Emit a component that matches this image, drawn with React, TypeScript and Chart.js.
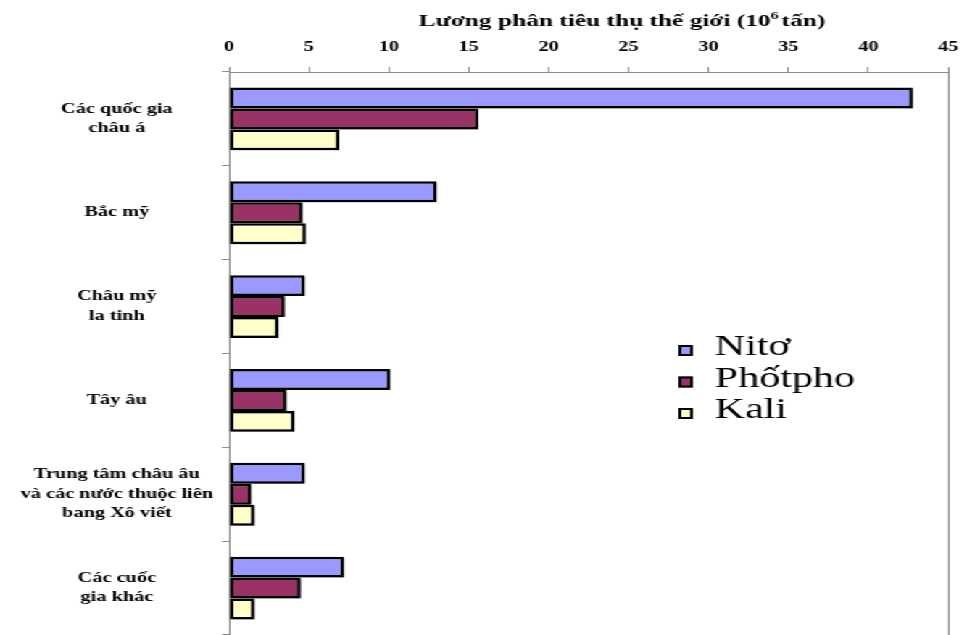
import { useEffect, useRef } from "react";
import { Chart, registerables } from "chart.js";

Chart.register(...registerables);

// Regions (one group of three bars each)
const regions: string[][] = [
  ["Các quốc gia", "châu á"],
  ["Bắc mỹ"],
  ["Châu mỹ", "la tinh"],
  ["Tây âu"],
  ["Trung tâm châu âu", "và các nước thuộc liên", "bang Xô viết"],
  ["Các cuốc", "gia khác"],
];

// Consumption per fertiliser, million tonnes
const nitoValues = [42.8, 13.0, 4.75, 10.1, 4.75, 7.2];
const photphoValues = [15.6, 4.6, 3.5, 3.6, 1.4, 4.5];
const kaliValues = [6.9, 4.8, 3.1, 4.1, 1.6, 1.6];

const seriesNames = ["Nitơ", "Phốtpho", "Kali"];

// Top value axis
const axisMin = 0;
const axisMax = 45;
const axisStep = 5;

// Axis caption, drawn in three pieces so the exponent can sit raised
const captionMain = "Lương phân tiêu thụ thế giới (10";
const captionExponent = "6";
const captionUnit = "tấn)";

const SERIF = '"Liberation Serif", "Times New Roman", Times, serif';
const AXIS_GREY = "#8c8c8c";

// The drawing is laid out narrow and widened horizontally as a whole
const CANVAS_W = 667;
const CANVAS_H = 635;
const STRETCH_X = 967 / CANVAS_W;

const captionPlugin = {
  id: "unitCaption",
  afterDraw(chart: any, _args: any, opts: any) {
    const { ctx, chartArea } = chart;
    ctx.save();
    ctx.fillStyle = "#000";
    ctx.textAlign = "left";
    ctx.textBaseline = "alphabetic";
    const mainFont = `bold ${opts.size}px ${SERIF}`;
    const supFont = `bold ${opts.supSize}px ${SERIF}`;
    ctx.font = mainFont;
    const w1 = ctx.measureText(captionMain).width;
    const w3 = ctx.measureText(captionUnit).width;
    ctx.font = supFont;
    const w2 = ctx.measureText(captionExponent).width;
    const total = w1 + w2 + w3 + opts.gap;
    let x = (chartArea.left + chartArea.right) / 2 + opts.shift - total / 2;
    ctx.font = mainFont;
    ctx.fillText(captionMain, x, opts.baseline);
    x += w1;
    ctx.font = supFont;
    ctx.fillText(captionExponent, x, opts.baseline - opts.raise);
    x += w2 + opts.gap;
    ctx.font = mainFont;
    ctx.fillText(captionUnit, x, opts.baseline);
    ctx.restore();
  },
};

const boxLegendPlugin = {
  id: "boxLegend",
  afterDraw(chart: any, _args: any, opts: any) {
    const { ctx } = chart;
    ctx.save();
    ctx.textAlign = "left";
    ctx.textBaseline = "alphabetic";
    ctx.font = `${opts.size}px ${SERIF}`;
    chart.data.datasets.forEach((ds: any, i: number) => {
      const base = opts.y + i * opts.rowGap;
      const bx = opts.x;
      const by = base - opts.boxRise;
      ctx.fillStyle = ds.backgroundColor;
      ctx.fillRect(bx, by, opts.boxW, opts.boxH);
      ctx.lineWidth = 2;
      ctx.strokeStyle = "#000";
      ctx.strokeRect(bx + 1, by + 1, opts.boxW - 2, opts.boxH - 2);
      ctx.fillStyle = "#000";
      ctx.fillText(ds.label, bx + opts.textGap, base);
    });
    ctx.restore();
  },
};

const barShadowPlugin = {
  id: "barShadow",
  beforeDatasetsDraw(chart: any) {
    const { ctx } = chart;
    ctx.save();
    ctx.shadowColor = "rgba(0,0,0,0.3)";
    ctx.shadowOffsetX = 2;
    ctx.shadowOffsetY = 2;
    ctx.shadowBlur = 0;
  },
  afterDatasetsDraw(chart: any) {
    chart.ctx.restore();
  },
};

export default function App() {
  const canvasRef = useRef<HTMLCanvasElement | null>(null);

  useEffect(() => {
    const canvas = canvasRef.current;
    if (!canvas) return;

    const makeSet = (label: string, data: number[], fill: string) => ({
      label,
      data,
      backgroundColor: fill,
      borderColor: "#000",
      borderWidth: 2.5,
      borderSkipped: false as const,
      barPercentage: 1,
      categoryPercentage: 0.67,
    });

    const chart = new Chart(canvas, {
      type: "bar",
      data: {
        labels: regions,
        datasets: [
          makeSet(seriesNames[0], nitoValues, "#9999FF"),
          makeSet(seriesNames[1], photphoValues, "#993366"),
          makeSet(seriesNames[2], kaliValues, "#FFFFCC"),
        ],
      },
      options: {
        indexAxis: "y",
        animation: false,
        responsive: false,
        layout: { padding: { top: 0, left: 0, right: 13, bottom: 0 } },
        scales: {
          x: {
            position: "top",
            min: axisMin,
            max: axisMax,
            ticks: {
              stepSize: axisStep,
              padding: 11,
              color: "#000",
              font: { family: SERIF, size: 14, weight: "bold" },
            },
            grid: {
              color: (c: any) =>
                c.tick && c.tick.value === axisMax ? AXIS_GREY : "rgba(0,0,0,0)",
              tickColor: AXIS_GREY,
              tickLength: 5,
              lineWidth: 1,
            },
            border: { color: AXIS_GREY, width: 1 },
            afterFit: (s: any) => {
              s.height = 72;
              s.paddingLeft = 0;
              s.paddingRight = 0;
            },
          },
          y: {
            ticks: {
              crossAlign: "center",
              padding: 6,
              color: "#000",
              font: { family: SERIF, size: 14, weight: "bold", lineHeight: 1.4 },
            },
            grid: {
              drawOnChartArea: false,
              color: AXIS_GREY,
              tickLength: 5,
              offset: true,
            },
            border: { color: AXIS_GREY, width: 1 },
            afterFit: (s: any) => {
              s.width = 158;
              s.paddingTop = 0;
              s.paddingBottom = 0;
            },
          },
        },
        plugins: {
          legend: { display: false },
          tooltip: { enabled: false },
          unitCaption: {
            size: 17.5,
            supSize: 11,
            baseline: 26,
            raise: 7,
            gap: 2,
            shift: 23,
          },
          boxLegend: {
            x: 468,
            y: 355,
            rowGap: 31.5,
            boxW: 10,
            boxH: 11,
            boxRise: 10,
            textGap: 25,
            size: 29,
          },
        } as any,
      },
      plugins: [barShadowPlugin, captionPlugin, boxLegendPlugin],
    });

    return () => chart.destroy();
  }, []);

  return (
    <div
      style={{
        position: "fixed",
        left: 0,
        top: 0,
        width: CANVAS_W,
        height: CANVAS_H,
        background: "#fff",
        transform: `scaleX(${STRETCH_X})`,
        transformOrigin: "0 0",
      }}
    >
      <canvas ref={canvasRef} width={CANVAS_W} height={CANVAS_H} />
    </div>
  );
}
